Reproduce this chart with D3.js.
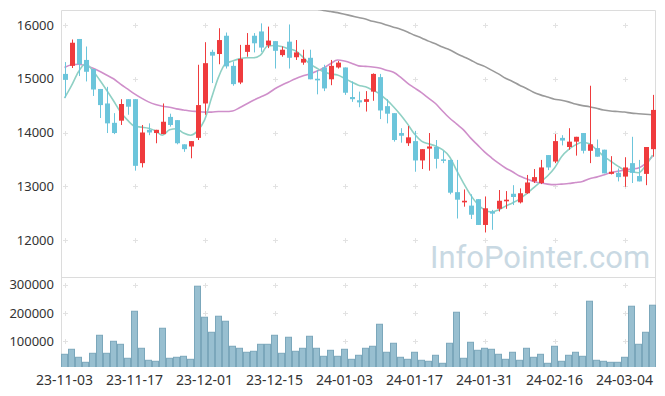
<!DOCTYPE html>
<html>
<head>
<meta charset="utf-8">
<script src="https://cdn.jsdelivr.net/npm/d3@7"></script>
<style>
  body { margin: 0; background: #fff; }
  svg { display: block; font-family: "Noto Sans", sans-serif; }
  .tick text { fill: #333; }
</style>
</head>
<body>
<svg id="chart" width="665" height="396"></svg>
<script>
// trading days shown on the chart
const dates = [
  "23-11-03","23-11-06","23-11-07","23-11-08","23-11-09","23-11-10","23-11-13","23-11-14","23-11-15","23-11-16",
  "23-11-17","23-11-20","23-11-21","23-11-22","23-11-23","23-11-24","23-11-27","23-11-28","23-11-29","23-11-30",
  "23-12-01","23-12-04","23-12-05","23-12-06","23-12-07","23-12-08","23-12-11","23-12-12","23-12-13","23-12-14",
  "23-12-15","23-12-18","23-12-19","23-12-20","23-12-21","23-12-22","23-12-26","23-12-27","23-12-28","24-01-02",
  "24-01-03","24-01-04","24-01-05","24-01-08","24-01-09","24-01-10","24-01-11","24-01-12","24-01-15","24-01-16",
  "24-01-17","24-01-18","24-01-19","24-01-22","24-01-23","24-01-24","24-01-25","24-01-26","24-01-29","24-01-30",
  "24-01-31","24-02-01","24-02-02","24-02-05","24-02-06","24-02-07","24-02-08","24-02-13","24-02-14","24-02-15",
  "24-02-16","24-02-19","24-02-20","24-02-21","24-02-22","24-02-23","24-02-26","24-02-27","24-02-28","24-02-29",
  "24-03-04","24-03-05","24-03-06","24-03-07","24-03-08"
];

const openPrices = [
  15090,15240,15740,15350,15180,14810,14540,14180,14220,14620,
  14620,13430,14050,13990,13970,14290,14230,13780,13740,13900,
  14540,15500,15460,15800,15240,14930,15500,15800,15880,15620,
  15700,15440,15690,15400,15300,15390,15000,15210,14990,15210,
  15210,14660,14600,14570,14760,15030,14490,14360,13990,13800,
  13840,13480,13700,13730,13500,13490,12890,12700,12640,12760,
  12280,12530,12580,12720,12860,12700,12870,13090,13060,13580,
  13460,13900,13730,13830,13990,13660,13710,13680,13230,13250,
  13180,13430,13190,13230,13690
];
const highPrices = [
  15310,15730,15740,15600,15180,14810,14850,14360,14620,14620,
  14620,14140,14170,14050,14540,14350,14230,13780,13840,15260,
  15680,15540,15940,15860,15320,15630,15850,15850,16030,15970,
  15700,15600,16010,15720,15540,15540,15160,15260,15350,15330,
  15210,14950,14760,14770,15100,15090,14620,14360,14080,14120,
  14030,13690,13990,13860,13660,13490,13490,12940,12850,12760,
  12810,12560,12930,12910,13020,12960,13210,13320,13490,13580,
  13970,13950,14080,13920,13990,14870,13870,13680,13560,13330,
  13540,13920,13490,13730,14700
];
const lowPrices = [
  14650,15200,15050,14950,14680,14270,13990,13970,14140,14330,
  13290,13350,13950,13800,13970,14110,13780,13640,13520,13860,
  14330,14920,15270,15190,14870,14900,15410,15490,15500,15570,
  15190,15410,15190,15350,15260,14990,14710,14770,14880,15190,
  14700,14570,14470,14390,14590,14250,14170,13830,13810,13750,
  13270,13320,13290,13330,13430,12850,12400,12620,12390,12280,
  12140,12190,12530,12580,12650,12680,12860,13060,13040,13300,
  13430,13760,13680,13570,13610,13430,13550,13240,13220,13090,
  12990,13060,13090,13020,13550
];
const closePrices = [
  14980,15670,15270,15130,14800,14510,14170,13990,14530,14480,
  13380,14000,14000,14050,14200,14140,13800,13690,13840,14510,
  15290,15430,15720,15230,14900,15370,15630,15660,15580,15710,
  15520,15540,15390,15490,15370,14990,14970,14820,15240,15300,
  14740,14620,14560,14620,15090,14410,14350,13860,13940,13910,
  13480,13690,13740,13510,13480,12880,12750,12730,12470,12280,
  12590,12490,12730,12750,12800,12870,13070,13170,13350,13350,
  13840,13850,13830,13920,13660,13780,13550,13240,13270,13170,
  13350,13250,13090,13730,14420
];
const volumes = [
  53700,71400,43100,25400,57200,120800,57200,99600,89000,39600,
  205600,74900,32500,29000,145600,39600,43100,46600,36000,294000,
  184500,131400,188000,170300,82000,74900,60800,64300,89000,89000,
  120800,57200,113800,64300,74900,117300,74900,46600,67800,46600,
  71400,36000,50200,74900,82000,159700,60800,92600,43100,36000,
  60800,32500,29000,50200,21900,92600,202100,39600,96100,67800,
  74900,71400,53700,36000,60800,32500,74900,43100,53700,21900,
  82000,29000,50200,60800,46600,241000,32500,29000,25400,25400,
  43100,223300,89000,131400,226900
];

// moving averages as drawn on the chart
const ma5 = [
  14640,14870,15130,15280,15160,14980,14790,14590,14380,14230,
  14120,14100,14080,14030,13950,14050,14070,13990,13950,14030,
  14230,14640,15030,15280,15330,15370,15390,15390,15440,15610,
  15620,15600,15560,15520,15410,15280,15200,15130,15090,15070,
  15010,14940,14880,14850,14790,14720,14610,14480,14330,14160,
  13970,13840,13790,13750,13680,13550,13300,13060,12840,12670,
  12560,12520,12560,12630,12690,12760,12860,12970,13080,13190,
  13340,13550,13680,13770,13820,13790,13680,13560,13470,13380,
  13300,13270,13250,13380,13580
];
const ma20 = [
  15210,15260,15270,15240,15200,15140,15070,15000,14900,14810,
  14720,14640,14570,14520,14490,14470,14440,14420,14400,14390,
  14380,14380,14390,14390,14400,14460,14530,14600,14660,14720,
  14810,14880,14940,15000,15050,15090,15140,15200,15280,15350,
  15330,15290,15240,15230,15220,15200,15160,15120,15030,14920,
  14830,14740,14640,14540,14400,14270,14160,14050,13900,13770,
  13640,13530,13430,13340,13270,13190,13140,13090,13060,13040,
  13030,13040,13050,13070,13090,13140,13170,13210,13250,13280,
  13300,13320,13340,13420,13560
];
const ma60 = [
  null,null,null,null,null,null,null,null,null,null,
  null,null,null,null,null,null,null,null,null,null,
  null,null,null,null,null,null,null,null,null,null,
  null,null,null,null,16350,16326,16300,16270,16250,16230,
  16200,16170,16140,16110,16070,16040,16000,15960,15920,15870,
  15810,15760,15700,15650,15590,15540,15470,15410,15350,15280,
  15230,15160,15090,15010,14950,14880,14820,14750,14700,14660,
  14620,14600,14570,14530,14500,14480,14450,14420,14400,14390,
  14380,14360,14350,14340,14330
];

const priceTicks = [12000, 13000, 14000, 15000, 16000];
const volumeTicks = [100000, 200000, 300000];
const dateTicks = ["23-11-03","23-11-17","23-12-01","23-12-15","24-01-03","24-01-17","24-01-31","24-02-16","24-03-04"];

const left = 61, right = 656,
      priceTop = 10, priceBottom = 277,
      volTop = 278, volBottom = 367;

const upColor = "#ef3b3d", downColor = "#6cc5db";

const svg = d3.select("#chart");

const x = d3.scaleBand()
    .domain(dates)
    .range([left, right])
    .padding(0);
const bw = x.bandwidth();
const cx = d => x(d) + bw / 2;

const yPrice = d3.scaleLinear().domain([12000, 16000]).range([240, 25]);
const yVol = d3.scaleLinear().domain([0, 300000]).range([369.5, 284.5]);

svg.append("defs").append("clipPath").attr("id", "clip-price")
  .append("rect").attr("x", left).attr("y", priceTop)
    .attr("width", right - left).attr("height", priceBottom - priceTop);
svg.select("defs").append("clipPath").attr("id", "clip-vol")
  .append("rect").attr("x", left).attr("y", volTop)
    .attr("width", right - left).attr("height", volBottom - volTop);

// small "+" marks at grid crossings
function crosses(yScale, ticks) {
  const g = svg.append("g").attr("stroke", "#e2e2e2").attr("stroke-width", 1);
  dateTicks.forEach(d => {
    ticks.forEach(t => {
      const px = Math.round(cx(d)) + 0.5, py = Math.round(yScale(t)) + 0.5;
      g.append("path").attr("d", `M${px - 2.5},${py}H${px + 2.5}M${px},${py - 2.5}V${py + 2.5}`);
    });
  });
}
crosses(yPrice, priceTicks);
crosses(yVol, volumeTicks);

// panel frames
const frame = svg.append("g").attr("stroke", "#dcdcdc").attr("fill", "none");
frame.append("path").attr("d", `M${left + 0.5},${volBottom}V${priceTop + 0.5}H${right - 0.5}V${volBottom}`);
frame.append("path").attr("d", `M${left},${volTop - 0.5}H${right}`);

// watermark
svg.append("text")
    .attr("x", 430).attr("y", 268)
    .attr("fill", "#c9d9e3")
    .style("font-family", "Roboto, sans-serif")
    .style("font-size", "31px")
    .text("InfoPointer.com");

// volume bars
svg.append("g").attr("clip-path", "url(#clip-vol)")
  .selectAll("rect")
  .data(dates)
  .enter()
  .append("rect")
    .attr("x", d => x(d) + 0.5)
    .attr("y", (d, i) => yVol(volumes[i]))
    .attr("width", bw - 1)
    .attr("height", (d, i) => yVol(0) - yVol(volumes[i]))
    .attr("fill", "#98bfd0")
    .attr("stroke", "#7ba7bb")
    .attr("stroke-width", 1);

// moving average lines
const priceLayer = svg.append("g").attr("clip-path", "url(#clip-price)");
const maLine = series => d3.line()
    .defined((d, i) => series[i] !== null)
    .x(d => cx(d))
    .y((d, i) => yPrice(series[i]))
    .curve(d3.curveMonotoneX);

[[ma60, "#9a9a9a"], [ma20, "#cf8fca"], [ma5, "#8fd0c4"]].forEach(([s, c]) => {
  priceLayer.append("path")
      .datum(dates)
      .attr("fill", "none")
      .attr("stroke", c)
      .attr("stroke-width", 1.6)
      .attr("d", maLine(s));
});

// candles
const candles = priceLayer.selectAll(".candle")
  .data(dates)
  .enter()
  .append("g")
    .attr("class", "candle")
    .attr("fill", (d, i) => closePrices[i] >= openPrices[i] ? upColor : downColor)
    .attr("stroke", (d, i) => closePrices[i] >= openPrices[i] ? upColor : downColor);

candles.append("line")
    .attr("x1", d => Math.round(cx(d)) + 0.5)
    .attr("x2", d => Math.round(cx(d)) + 0.5)
    .attr("y1", (d, i) => yPrice(highPrices[i]))
    .attr("y2", (d, i) => yPrice(lowPrices[i]))
    .attr("stroke-width", 1);

candles.append("rect")
    .attr("x", d => Math.round(cx(d)) - 2)
    .attr("width", 5)
    .attr("y", (d, i) => yPrice(Math.max(openPrices[i], closePrices[i])))
    .attr("height", (d, i) => Math.max(1.5, Math.abs(yPrice(openPrices[i]) - yPrice(closePrices[i]))))
    .attr("stroke", "none");

// axes
const yAxisPrice = svg.append("g")
    .attr("transform", `translate(${left},0)`)
    .call(d3.axisLeft(yPrice).tickValues(priceTicks).tickSize(0).tickPadding(7).tickFormat(d3.format("d")));
const yAxisVol = svg.append("g")
    .attr("transform", `translate(${left},0)`)
    .call(d3.axisLeft(yVol).tickValues(volumeTicks).tickSize(0).tickPadding(7).tickFormat(d3.format("d")));
const xAxis = svg.append("g")
    .attr("transform", `translate(0,${volBottom})`)
    .call(d3.axisBottom(x).tickValues(dateTicks).tickSize(0).tickPadding(8));

[yAxisPrice, yAxisVol, xAxis].forEach(a => {
  a.select(".domain").remove();
  a.selectAll("text").style("font-size", "13px").style("font-family", "'Noto Sans', sans-serif");
});
xAxis.selectAll("text").style("font-size", "14px");
</script>
</body>
</html>
